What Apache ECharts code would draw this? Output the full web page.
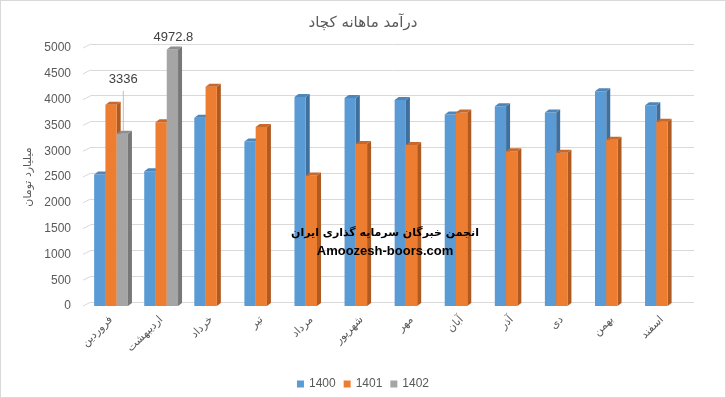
<!DOCTYPE html>
<html>
<head>
<meta charset="utf-8">
<script src="https://cdn.jsdelivr.net/npm/echarts@6/dist/echarts.min.js"></script>
<style>
  html, body { margin: 0; padding: 0; background: #fff; }
  #chart { width: 726px; height: 398px; box-sizing: border-box; border: 1px solid #d9d9d9; }
</style>
</head>
<body>
<div id="chart"></div>
<script>
var months = ['فروردین', 'اردیبهشت', 'خرداد', 'تیر', 'مرداد', 'شهریور', 'مهر', 'آبان', 'آذر', 'دی', 'بهمن', 'اسفند'];
var years = ['1400', '1401', '1402'];
var v1400 = [2550, 2610, 3650, 3190, 4050, 4030, 3990, 3710, 3870, 3750, 4160, 3890];
var v1401 = [3900, 3560, 4250, 3470, 2530, 3140, 3120, 3750, 3000, 2970, 3220, 3570];
var v1402 = [3336, 4972.8, null, null, null, null, null, null, null, null, null, null];
var yTicks = [0, 500, 1000, 1500, 2000, 2500, 3000, 3500, 4000, 4500, 5000];

var font = 'DejaVu Sans';
var textColor = '#595959';

// front / side / top colours for each year
var faces = [
  ['#5b9bd5', '#3f6f9c', '#4f86ba'],
  ['#ed7d31', '#ae5a21', '#c8682a'],
  ['#a5a5a5', '#787878', '#8e8e8e']
];
var depthX = 4, depthY = 3;
// how far a value label sits above its bar (only the first 1402 label is lifted with a leader line)
var labelLift = {0: 54};

function bar3d(idx) {
  return function (params, api) {
    var val = api.value(1);
    if (val == null || isNaN(val)) return;
    var cat = api.value(0);
    var base = api.coord([cat, 0]);
    var top = api.coord([cat, val]);
    var band = api.size([1, 0])[0];
    var bw = band * 0.225;
    var x0 = base[0] - bw * 1.5 + idx * bw;
    var yt = top[1], yb = base[1];
    var f = faces[idx];
    var kids = [
      {type: 'polygon', shape: {points: [[x0 + bw, yt], [x0 + bw + depthX, yt - depthY], [x0 + bw + depthX, yb - depthY], [x0 + bw, yb]]}, style: {fill: f[1]}},
      {type: 'rect', shape: {x: x0, y: yt, width: bw, height: yb - yt}, style: {fill: f[0]}},
      {type: 'polygon', shape: {points: [[x0, yt], [x0 + depthX, yt - depthY], [x0 + bw + depthX, yt - depthY], [x0 + bw, yt]]}, style: {fill: f[2]}}
    ];
    if (idx === 2) {
      var lift = labelLift[params.dataIndex] || 12;
      var cx = x0 + bw / 2 + 1;
      if (lift > 12) {
        kids.push({type: 'line', shape: {x1: cx, y1: yt - lift + 11, x2: cx, y2: yt - 3}, style: {stroke: '#bfbfbf', lineWidth: 1}});
      }
      kids.push({type: 'text', x: cx, y: yt - lift, style: {text: String(val), fill: '#404040', font: '13px Liberation Sans', align: 'center', verticalAlign: 'middle'}});
    }
    return {type: 'group', children: kids};
  };
}

var chart = echarts.init(document.getElementById('chart'));

var option = {
  animation: false,
  textStyle: {fontFamily: font},
  title: {
    text: 'درآمد ماهانه کچاد',
    left: 'center',
    top: 10,
    textStyle: {fontSize: 15, fontWeight: 'normal', color: textColor, fontFamily: font}
  },
  legend: {
    bottom: 2,
    left: 'center',
    itemWidth: 7,
    itemHeight: 7,
    itemGap: 8,
    icon: 'rect',
    textStyle: {fontSize: 12, color: textColor, fontFamily: 'Liberation Sans'},
    data: years.map(function (y, i) { return {name: y, itemStyle: {color: faces[i][0]}}; })
  },
  grid: [
    // front plane: bars, labels
    {left: 85, right: 38, top: 47, bottom: 91},
    // back wall: gridlines
    {left: 90, right: 31, top: 43, bottom: 95}
  ],
  xAxis: [
    {
      type: 'category', gridIndex: 0, data: months,
      axisLine: {show: false}, axisTick: {show: false},
      axisLabel: {rotate: 45, interval: 0, margin: 12, color: textColor, fontSize: 11, fontFamily: font}
    },
    {
      type: 'category', gridIndex: 1, data: months, show: false
    }
  ],
  yAxis: [
    {
      type: 'value', gridIndex: 0, min: 0, max: 5000, interval: 500,
      name: 'میلیارد تومان', nameLocation: 'middle', nameGap: 52, nameRotate: 90,
      nameTextStyle: {color: textColor, fontSize: 11, fontFamily: font},
      axisLine: {show: false}, axisTick: {show: false}, splitLine: {show: false},
      axisLabel: {color: textColor, fontSize: 12, margin: 15, fontFamily: 'Liberation Sans',
        formatter: function (v) { return String(v); }}
    },
    {
      type: 'value', gridIndex: 1, min: 0, max: 5000, interval: 500,
      axisLine: {show: false}, axisTick: {show: false}, axisLabel: {show: false},
      splitLine: {show: true, lineStyle: {color: '#d9d9d9', width: 1}}
    }
  ],
  graphic: [
    {
      type: 'text', x: 384, y: 232, z: 100,
      style: {text: 'انجمن خبرگان سرمایه گذاری ایران', font: 'bold 11px ' + font, fill: '#000', align: 'center', verticalAlign: 'middle'}
    },
    {
      type: 'text', x: 384, y: 250, z: 100,
      style: {text: 'Amoozesh-boors.com', font: 'bold 13px Liberation Sans', fill: '#000', align: 'center', verticalAlign: 'middle'}
    }
  ],
  series: [
    {
      // little diagonal connectors from the labels to the back wall
      type: 'custom', xAxisIndex: 1, yAxisIndex: 1, silent: true, z: 1,
      data: yTicks.map(function (t) { return [0, t]; }),
      renderItem: function (params, api) {
        var p = api.coord([0, api.value(1)]);
        var x = params.coordSys.x;
        return {type: 'line', shape: {x1: x - 8, y1: p[1] + 4, x2: x, y2: p[1]}, style: {stroke: '#d9d9d9', lineWidth: 1}};
      }
    }
  ].concat([v1400, v1401, v1402].map(function (vals, i) {
    return {
      name: years[i], type: 'custom', xAxisIndex: 0, yAxisIndex: 0, z: 2 + i,
      itemStyle: {color: faces[i][0]},
      encode: {x: 0, y: 1},
      data: vals.map(function (v, k) { return [k, v]; }),
      renderItem: bar3d(i)
    };
  }))
};

chart.setOption(option);
</script>
</body>
</html>
